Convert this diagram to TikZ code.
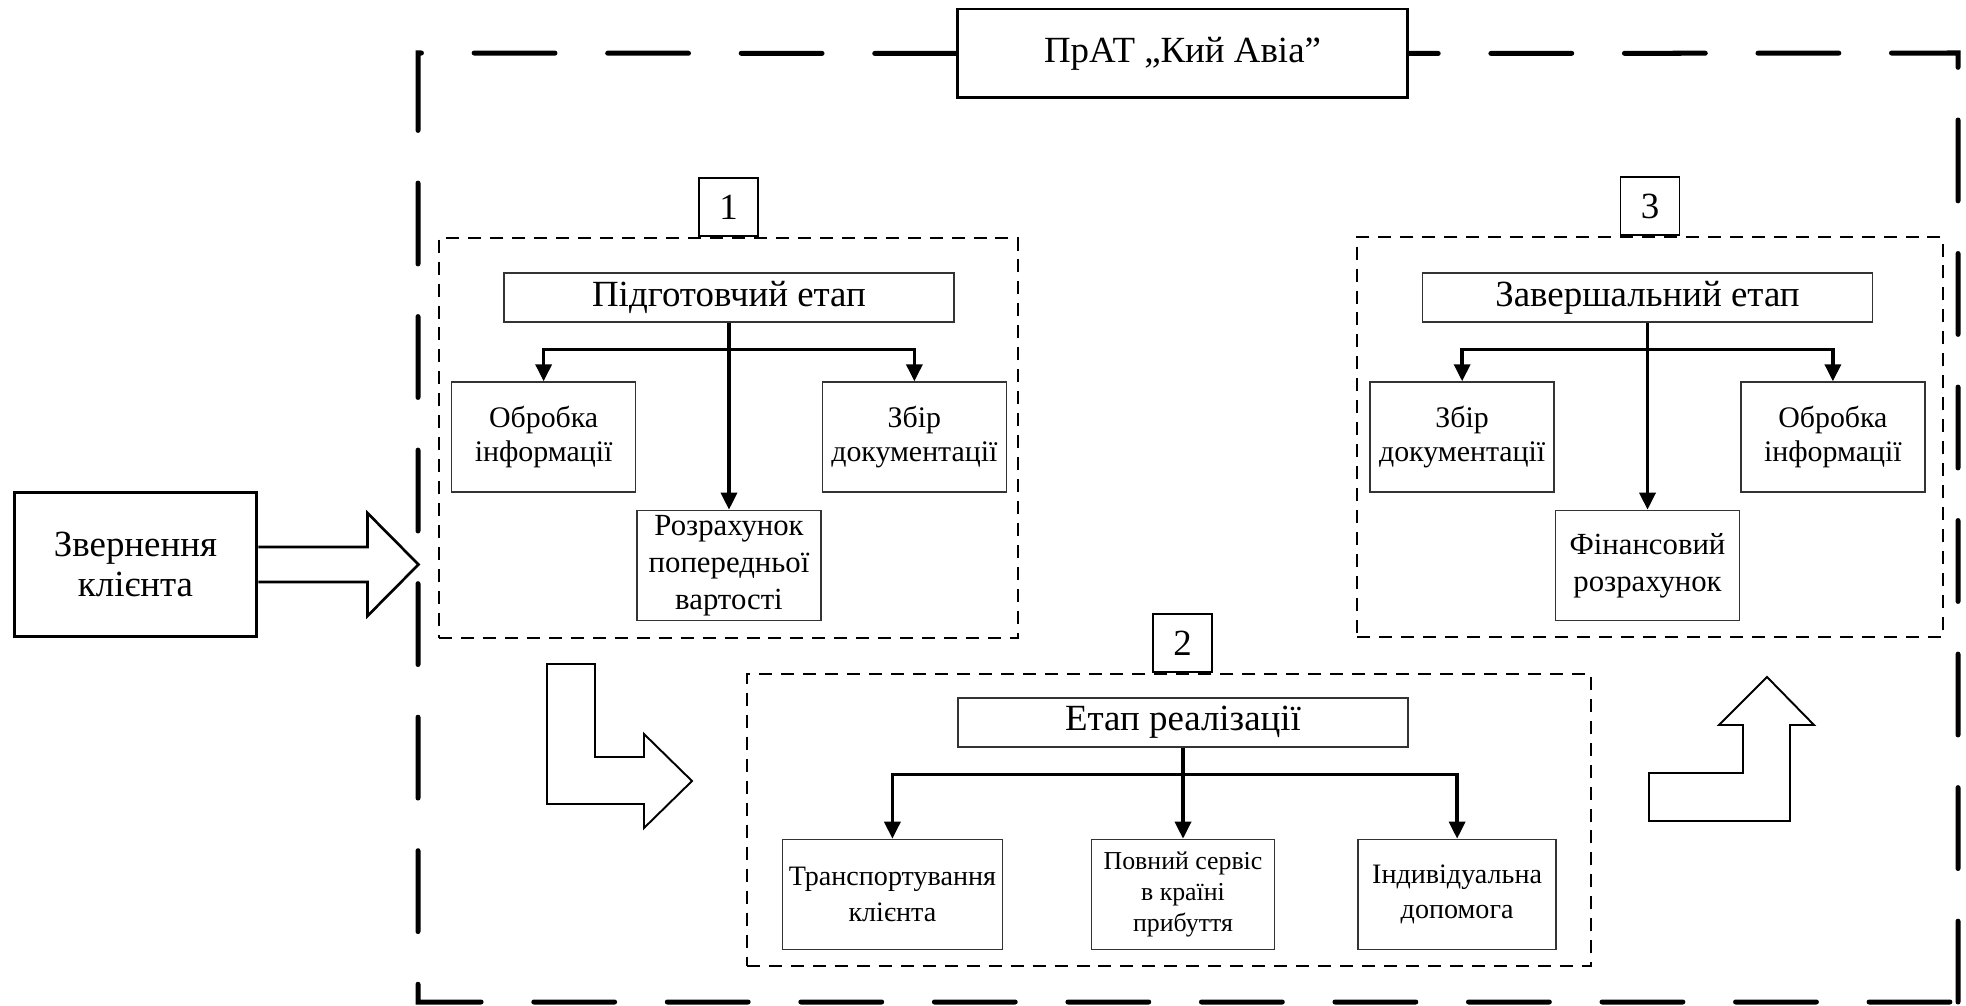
\documentclass[tikz,border=0pt]{standalone}
\usepackage{fontspec}
\setmainfont{Liberation Serif}
\usetikzlibrary{positioning, arrows.meta}

\begin{document}
\begin{tikzpicture}[
		x=0.02cm, y=-0.02cm,
		>={Triangle[width=0.32cm, length=0.34cm]},
		% Define styles
		base/.style={rectangle, draw, align=center, inner sep=0pt},
		bigtext/.style={font=\fontsize{21}{24}\selectfont},
		firmbox/.style={base, bigtext, line width=1.7pt, fill=white, minimum width=9.02cm, minimum height=1.78cm},
		clientbox/.style={base, bigtext, line width=1.7pt, minimum width=4.86cm, minimum height=2.9cm, font=\fontsize{21}{23}\selectfont},
		stagebox/.style={base, line width=1pt, dash pattern=on 7.4pt off 5.1pt},
		numbox/.style={base, bigtext, line width=1.1pt, fill=white, minimum width=1.18cm, minimum height=1.16cm},
		headbox/.style={base, bigtext, draw=black!80, line width=0.8pt, minimum width=9cm, minimum height=0.98cm},
		taskbox/.style={base, draw=black!80, line width=0.8pt, minimum width=3.68cm, minimum height=2.2cm, font=\fontsize{17}{19.5}\selectfont},
		calcbox/.style={taskbox, font=\fontsize{17.5}{21}\selectfont},
		smalltask/.style={taskbox, font=\fontsize{14.7}{17.8}\selectfont},
		midtask/.style={taskbox, font=\fontsize{16}{20}\selectfont},
		frame/.style={line width=2.85pt, line cap=round, dash pattern=on 46pt off 30pt},
		branch/.style={->, line width=2pt},
		hollow/.style={line width=1.1pt, line join=miter}
		]
		
		\useasboundingbox (0,0) rectangle (1966,1006);
		
		% 1. Company frame
		\node[firmbox] (firm) at (1182.5,53.5) {ПрАТ „Кий Авіа”};
		\coordinate (ftl) at (418,53);
		\coordinate (fbr) at (1958,1002);
		\draw[frame] (firm.west) -- (ftl) -- (ftl |- fbr) -- (fbr);
		\draw[frame] (fbr) -- (fbr |- ftl) -- (firm.east);
		
		% 2. Client request
		\node[clientbox] (client) at (135.5,564.5) {Звернення\\клієнта};
		\draw[hollow, line width=1.5pt] ([yshift=0.35cm]client.east) -- ++(109,0) -- ++(0,-34) -- ++(51,51.5) -- ++(-51,51.5) -- ++(0,-34) -- ++(-109,0);
		
		% 3. Stage 1
		\node[stagebox, minimum width=11.58cm, minimum height=8cm] (stage1) at (728.5,438) {};
		\node[numbox, above=0pt of stage1] (num1) {1};
		\node[headbox] (prep) at (729,297.5) {Підготовчий етап};
		\node[calcbox, below=3.74cm of prep] (calc1) {Розрахунок\\попередньої\\вартості};
		\node[taskbox, above left=0.34cm and 0cm of calc1] (info1) {Обробка\\інформації};
		\node[taskbox, above right=0.34cm and 0cm of calc1] (docs1) {Збір\\документації};
		\coordinate[below=0.54cm of prep] (bus1);
		\draw[branch] (prep) -- (calc1);
		\draw[branch] (bus1) -| (info1);
		\draw[branch] (bus1) -| (docs1);
		
		% 4. Stage 2
		\node[stagebox, minimum width=16.88cm, minimum height=5.84cm] (stage2) at (1169,820) {};
		\node[numbox, above=0pt of stage2, xshift=0.27cm] (num2) {2};
		\node[headbox] (real) at (1183,722.5) {Етап реалізації};
		\node[smalltask, below=1.82cm of real, minimum width=3.67cm] (service) {Повний сервіс\\в країні\\прибуття};
		\node[midtask, left=1.75cm of service, minimum width=4.4cm] (transport) {Транспортування\\клієнта};
		\node[midtask, right=1.64cm of service, minimum width=3.96cm] (helpdesk) {Індивідуальна\\допомога};
		\coordinate[below=0.54cm of real] (bus2);
		\draw[branch] (real) -- (service);
		\draw[branch] (bus2) -| (transport);
		\draw[branch] (bus2) -| (helpdesk);
		
		% 5. Stage 3
		\node[stagebox, minimum width=11.72cm, minimum height=8cm] (stage3) at (1650,437) {};
		\node[numbox, above=0pt of stage3] (num3) {3};
		\node[headbox] (final) at (1647.5,297.5) {Завершальний етап};
		\node[calcbox, below=3.74cm of final] (fin3) {Фінансовий\\розрахунок};
		\node[taskbox, above left=0.34cm and 0cm of fin3] (docs3) {Збір\\документації};
		\node[taskbox, above right=0.34cm and 0cm of fin3] (info3) {Обробка\\інформації};
		\coordinate[below=0.54cm of final] (bus3);
		\draw[branch] (final) -- (fin3);
		\draw[branch] (bus3) -| (docs3);
		\draw[branch] (bus3) -| (info3);
		
		% 6. Transitions between stages
		\draw[hollow] (547,664) -- (595,664) -- (595,757) -- (644,757) -- (644,734) -- (692,781) -- (644,828) -- (644,804) -- (547,804) -- cycle;
		\draw[hollow] (1649,773) -- (1743,773) -- (1743,725) -- (1719,725) -- (1767,677) -- (1814,725) -- (1790,725) -- (1790,821) -- (1649,821) -- cycle;
		
	\end{tikzpicture}
\end{document}
